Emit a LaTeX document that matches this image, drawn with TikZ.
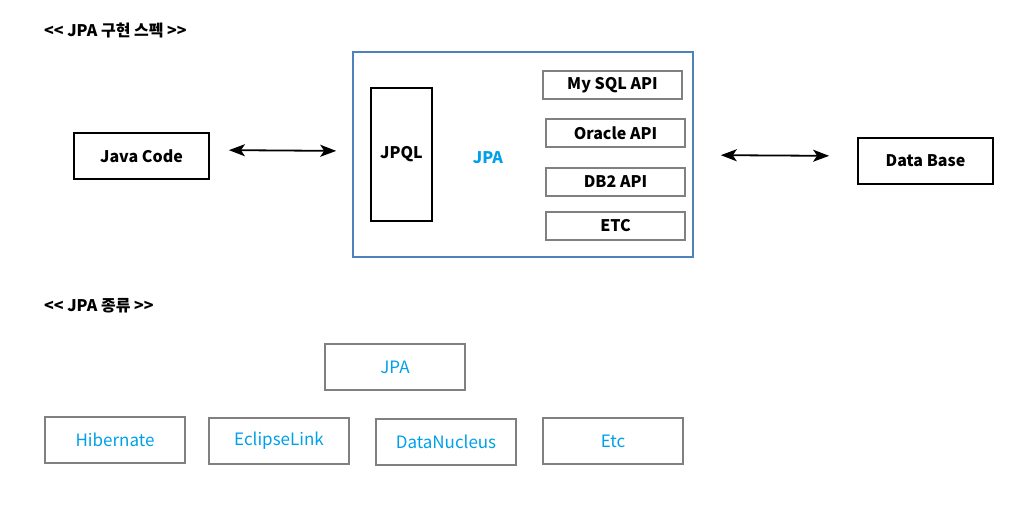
\documentclass[tikz,border=0pt]{standalone}
\usepackage{fontspec}
\setmainfont{Noto Sans CJK KR}[Ligatures=TeXOff]
\usetikzlibrary{arrows.meta}
\definecolor{BoxGray}{RGB}{128,128,128}
\definecolor{FrameBlue}{RGB}{79,129,189}
\definecolor{TextBlue}{RGB}{0,160,233}

\tikzset{
    blackbox/.style={draw=black,line width=1.8pt,inner sep=0pt,font=\fontsize{16}{18}\selectfont\bfseries},
    apibox/.style={draw=BoxGray,line width=1.8pt,inner sep=0pt,minimum width=139pt,minimum height=28pt,font=\fontsize{16}{18}\selectfont\bfseries},
    kindbox/.style={draw=BoxGray,line width=1.8pt,inner sep=0pt,minimum width=140pt,minimum height=46pt,text=TextBlue,font=\fontsize{17}{19}\selectfont},
    title/.style={anchor=west,inner sep=0pt,font=\fontsize{16}{18}\selectfont\bfseries},
    link/.style={{Stealth[length=16pt,width=12pt,inset=4pt]}-{Stealth[length=16pt,width=12pt,inset=4pt]},line width=1.8pt}
}

\begin{document}
\begin{tikzpicture}[x=1pt,y=-1pt]
    \useasboundingbox (0,0) rectangle (1015,531);

    % JPA spec
    \node[title] (spectitle) at (44,30) {<< JPA 구현 스펙 >>};

    \node[blackbox,minimum width=135pt,minimum height=46pt] (javacode) at (141.5,156) {Java Code};

    \node[draw=FrameBlue,line width=1.6pt,minimum width=340pt,minimum height=205pt,inner sep=0pt] (jpaframe) at (523,154.5) {};
    \node[blackbox,minimum width=61pt,minimum height=133pt] (jpql) at (401.5,154.5) {JPQL};
    \node[text=TextBlue,font=\fontsize{16}{18}\selectfont\bfseries] (jpa) at (488,158) {JPA};

    \node[apibox] (mysql) at (612.5,85) {My SQL API};
    \node[apibox] (oracle) at (615.5,133) {Oracle API};
    \node[apibox] (db2) at (615.5,182) {DB2 API};
    \node[apibox] (etc) at (615.5,226) {ETC};

    \node[blackbox,minimum width=135pt,minimum height=46pt] (database) at (925.5,161) {Data Base};

    \draw[link,shorten <=19pt,shorten >=16pt] ([yshift=6pt]javacode.east) -- ([yshift=3.5pt]jpaframe.west);
    \draw[link,shorten <=27pt,shorten >=28pt] ([yshift=-0.5pt]jpaframe.east) -- ([yshift=5pt]database.west);

    % JPA kinds
    \node[title] (kindtitle) at (44,306) {<< JPA 종류 >>};

    \node[kindbox] (jpaspec) at (395,367) {JPA};
    \node[kindbox] (hibernate) at (115,440) {Hibernate};
    \node[kindbox] (eclipselink) at (279,441) {EclipseLink};
    \node[kindbox] (datanucleus) at (446,442) {DataNucleus};
    \node[kindbox] (etckind) at (613,441) {Etc};
\end{tikzpicture}
\end{document}
